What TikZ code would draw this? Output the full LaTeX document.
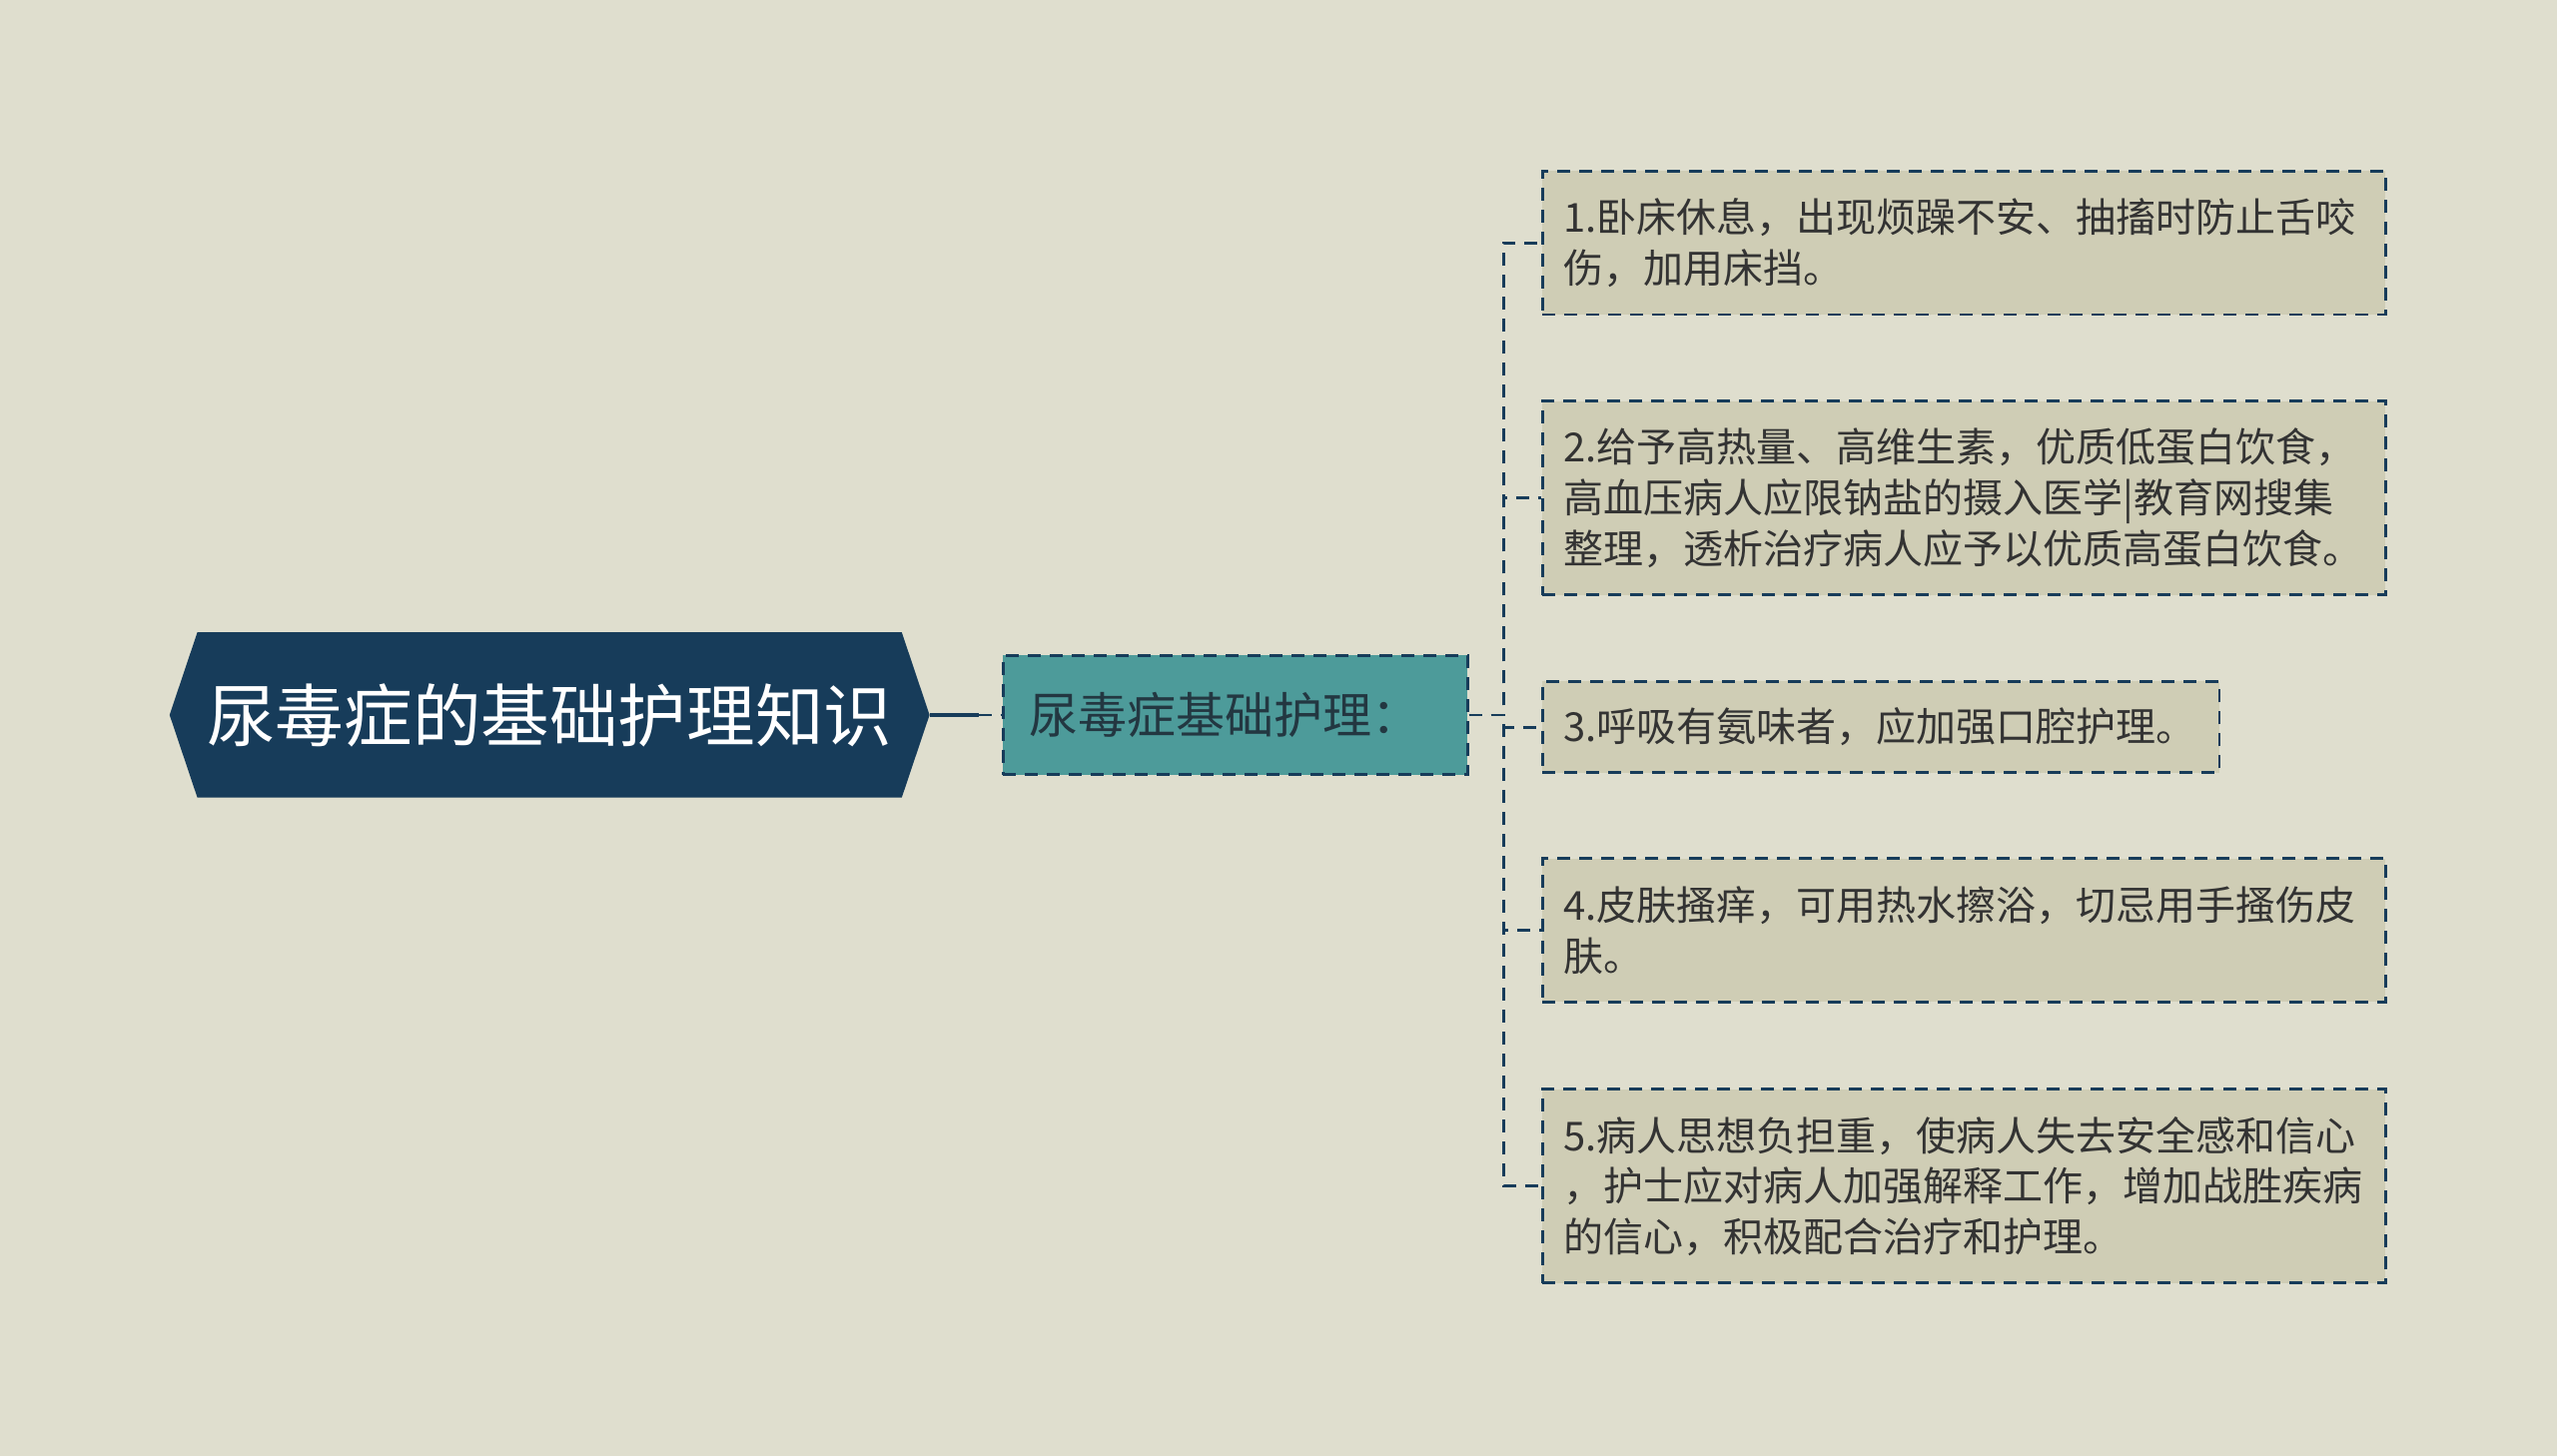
\documentclass[tikz,border=0pt]{standalone}
\usepackage{fontspec}
\setmainfont{Noto Sans CJK SC}
\usetikzlibrary{backgrounds}

\begin{document}
\begin{tikzpicture}[x=0.8163pt,y=-0.8163pt]


% Couleurs
\definecolor{fondcol}{RGB}{223,222,206}    % fond
\definecolor{racinecol}{RGB}{23,60,90}     % bleu nuit (racine)
\definecolor{brancol}{RGB}{77,155,154}     % sarcelle (branche)
\definecolor{feuillecol}{RGB}{207,205,181} % beige (feuilles)
\definecolor{textecol}{RGB}{51,51,51}
\definecolor{brantexte}{RGB}{35,55,65}

% Styles
\tikzset{
  pointille/.style={draw=racinecol, line width=1.4pt, dash pattern=on 6.5pt off 4.5pt},
  racinebox/.style={minimum width=380pt, minimum height=82.4pt, text=white,
    font=\fontsize{34.3pt}{40pt}\selectfont},
  branbox/.style={pointille, fill=brancol, minimum width=232.6pt,
    minimum height=59.6pt, text=brantexte, align=left, inner xsep=13pt,
    text width=206.6pt, font=\fontsize{24.5pt}{30pt}\selectfont},
  feuille/.style={pointille, fill=feuillecol, anchor=west, text=textecol,
    align=left, inner sep=10.6pt, text width=400.8pt, minimum height=71.8pt,
    font=\fontsize{20pt}{25.3pt}\selectfont}
}

\useasboundingbox (0,0) rectangle (1568,893);

% Noeuds
\node[racinebox] (racine) at (337,438.5) {尿毒症的基础护理知识};
\node[branbox] (branche) at (757.5,438.5) {尿毒症基础护理：};

\node[feuille] (f1) at (945,149)
  {1.卧床休息，出现烦躁不安、抽搐时防止舌咬\\伤，加用床挡。};
\node[feuille, minimum height=97.1pt] (f2) at (945,305.5)
  {2.给予高热量、高维生素，优质低蛋白饮食，\\高血压病人应限钠盐的摄入医学|教育网搜集\\整理，透析治疗病人应予以优质高蛋白饮食。};
\node[feuille, text width=317.6pt, minimum height=45.7pt] (f3) at (945,446)
  {3.呼吸有氨味者，应加强口腔护理。};
\node[feuille] (f4) at (945,570.5)
  {4.皮肤搔痒，可用热水擦浴，切忌用手搔伤皮\\肤。};
\node[feuille, minimum height=97.1pt] (f5) at (945,727.5)
  {5.病人思想负担重，使病人失去安全感和信心\\，护士应对病人加强解释工作，增加战胜疾病\\的信心，积极配合治疗和护理。};

% Fond et hexagone de la racine
\begin{scope}[on background layer]
  \fill[fondcol] (0,0) rectangle (1568,893);
  \fill[racinecol] ([xshift=13.9pt]racine.north west) -- ([xshift=-13.9pt]racine.north east)
    -- (racine.east) -- ([xshift=-13.9pt]racine.south east)
    -- ([xshift=13.9pt]racine.south west) -- (racine.west) -- cycle;
\end{scope}

% Liens
\coordinate (milieu) at (600,438.5);
\coordinate (tronc) at (922,438.5);
\draw[racinecol, line width=2.4pt] (racine.east) -- (milieu);
\draw[pointille] (milieu) -- (branche.west);
\foreach \i in {1,...,5}
  \draw[pointille] (branche.east) -- (tronc) |- (f\i.west);


\end{tikzpicture}
\end{document}
